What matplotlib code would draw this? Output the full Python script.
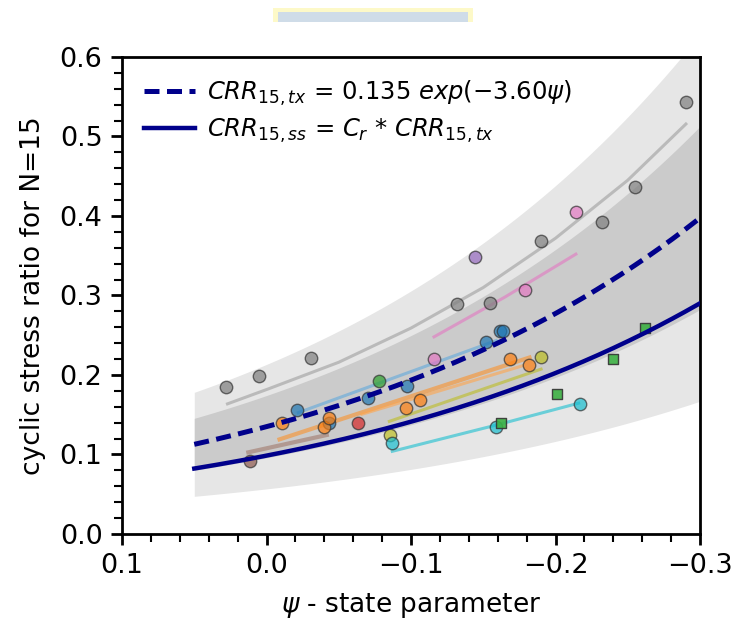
import numpy as np
import matplotlib
matplotlib.use('Agg')
import matplotlib.pyplot as plt
from matplotlib.patches import Rectangle
from matplotlib.ticker import MultipleLocator

# --- values ---
A_TX = 0.135
B_TX = 3.60
C_R = 0.73
PSI_RANGE = [0.05, -0.30]

gray_x = [0.028, 0.005, -0.031, -0.132, -0.155, -0.190, -0.232, -0.255, -0.290]
gray_y = [0.185, 0.199, 0.221, 0.289, 0.291, 0.369, 0.392, 0.437, 0.543]
gray_fit_x = [0.028, -0.002, -0.05, -0.10, -0.15, -0.20, -0.25, -0.291]
gray_fit_y = [0.163, 0.183, 0.216, 0.259, 0.310, 0.372, 0.445, 0.517]

pink_x = [-0.116, -0.179, -0.214]
pink_y = [0.220, 0.307, 0.405]
pink_fit_x = [-0.115, -0.165, -0.215]
pink_fit_y = [0.247, 0.298, 0.353]

purple_x = [-0.144]
purple_y = [0.349]

blue_x = [-0.021, -0.0435, -0.070, -0.0975, -0.152, -0.1616, -0.1635]
blue_y = [0.156, 0.139, 0.171, 0.186, 0.241, 0.255, 0.255]
blue_fit_x = [-0.021, -0.160]
blue_fit_y = [0.152, 0.244]

orange_x = [-0.0105, -0.040, -0.0433, -0.0963, -0.1064, -0.1683, -0.1819]
orange_y = [0.139, 0.134, 0.1455, 0.159, 0.168, 0.220, 0.212]
orange_fit_x = [-0.009, -0.182]
orange_fit_y = [0.119, 0.222]
orange2_fit_x = [-0.065, -0.178]
orange2_fit_y = [0.150, 0.212]

red_x = [-0.063]
red_y = [0.139]

green_x = [-0.0776]
green_y = [0.193]

olive_x = [-0.0855, -0.190]
olive_y = [0.124, 0.222]
olive_fit_x = [-0.084, -0.191]
olive_fit_y = [0.141, 0.208]

cyan_x = [-0.0869, -0.159, -0.217]
cyan_y = [0.114, 0.135, 0.164]
cyan_fit_x = [-0.086, -0.159, -0.217]
cyan_fit_y = [0.1035, 0.137, 0.165]

brown_x = [0.0116]
brown_y = [0.092]
brown_fit_x = [0.0126, -0.0417]
brown_fit_y = [0.1027, 0.1245]

square_x = [-0.162, -0.201, -0.240, -0.262]
square_y = [0.140, 0.176, 0.220, 0.2595]

plt.rcParams.update({
    'font.family': 'DejaVu Sans',
    'font.size': 14,
    'mathtext.fontset': 'dejavusans',
})

fig = plt.figure(figsize=(7.32, 6.26), dpi=100)
ax = fig.add_axes([0.1667, 0.147, 0.7896, 0.762])

# stray box at the top of the page
fig.patches.append(Rectangle((273 / 732, 1 - 22 / 626), 200 / 732, 14 / 626,
                             transform=fig.transFigure, facecolor='#fdf9c8',
                             edgecolor='none'))
fig.patches.append(Rectangle((278 / 732, 1 - 22 / 626), 190 / 732, 10 / 626,
                             transform=fig.transFigure, facecolor='#cfdce8',
                             edgecolor='none'))

psi = np.linspace(PSI_RANGE[0], PSI_RANGE[1], 200)
crr_tx = A_TX * np.exp(-B_TX * psi)
crr_ss = C_R * crr_tx

# uncertainty bands
ax.fill_between(psi, crr_tx * 0.42, crr_tx * 1.58, color='#e6e6e6', lw=0, zorder=0)
ax.fill_between(psi, crr_tx * 0.71, crr_tx * 1.29, color='#cbcbcb', lw=0, zorder=0)

# trend lines per data set
fit_kw = dict(lw=2.2, alpha=0.6, zorder=2, solid_capstyle='butt')
ax.plot(gray_fit_x, gray_fit_y, color='#9e9e9e', **fit_kw)
ax.plot(pink_fit_x, pink_fit_y, color='#e377c2', **fit_kw)
ax.plot(blue_fit_x, blue_fit_y, color='#5fa8dc', **fit_kw)
ax.plot(orange_fit_x, orange_fit_y, color='#ff8c1a', lw=3.0, alpha=0.55, zorder=2)
ax.plot(orange2_fit_x, orange2_fit_y, color='#ffa64d', **fit_kw)
ax.plot(olive_fit_x, olive_fit_y, color='#bcbd22', **fit_kw)
ax.plot(cyan_fit_x, cyan_fit_y, color='#17becf', **fit_kw)
ax.plot(brown_fit_x, brown_fit_y, color='#a0786b', lw=3.0, alpha=0.6, zorder=2)

pt_kw = dict(s=80, edgecolors='#333333', linewidths=1.0, alpha=0.7, zorder=4)
ax.scatter(gray_x, gray_y, color='#7f7f7f', **pt_kw)
ax.scatter(pink_x, pink_y, color='#e377c2', **pt_kw)
ax.scatter(purple_x, purple_y, color='#9467bd', **pt_kw)
ax.scatter(blue_x, blue_y, color='#1f77b4', **pt_kw)
ax.scatter(orange_x, orange_y, color='#ff7f0e', **pt_kw)
ax.scatter(red_x, red_y, color='#d62728', **pt_kw)
ax.scatter(green_x, green_y, color='#2ca02c', **pt_kw)
ax.scatter(olive_x, olive_y, color='#bcbd22', **pt_kw)
ax.scatter(cyan_x, cyan_y, color='#17becf', **pt_kw)
ax.scatter(brown_x, brown_y, color='#8c564b', **pt_kw)
ax.scatter(square_x, square_y, marker='s', s=58, color='#3cb043',
           edgecolors='#333333', linewidths=1.0, alpha=0.9, zorder=4)

ax.plot(psi, crr_ss, color='#00008b', lw=3.2, zorder=5,
        label=r'$CRR_{15,ss}$ = $C_r$ * $CRR_{15,tx}$')
ax.plot(psi, crr_tx, color='#00008b', lw=3.6, ls=(0, (3, 1.5)), zorder=5,
        label=r'$CRR_{15,tx}$ = 0.135 $exp(-3.60\psi)$')

handles, labels = ax.get_legend_handles_labels()
ax.legend(handles[::-1], labels[::-1], loc='upper left', frameon=False,
          fontsize=17.5, handlelength=2.1, handletextpad=0.5,
          labelspacing=0.35)

ax.set_xlim(0.1, -0.3)
ax.set_ylim(0, 0.6)
ax.xaxis.set_major_locator(MultipleLocator(0.1))
ax.xaxis.set_minor_locator(MultipleLocator(0.02))
ax.yaxis.set_major_locator(MultipleLocator(0.1))
ax.yaxis.set_minor_locator(MultipleLocator(0.02))
ax.tick_params(which='major', direction='out', length=8, width=2,
               labelsize=19.5, pad=6)
ax.tick_params(which='minor', direction='out', length=5.5, width=1.5)
for sp in ax.spines.values():
    sp.set_linewidth(2)

ax.set_xlabel(r'$\psi$ - state parameter', fontsize=19, labelpad=8)
ax.set_ylabel('cyclic stress ratio for N=15', fontsize=19, labelpad=10)

fig.savefig('out.png', dpi=100, facecolor='white')
